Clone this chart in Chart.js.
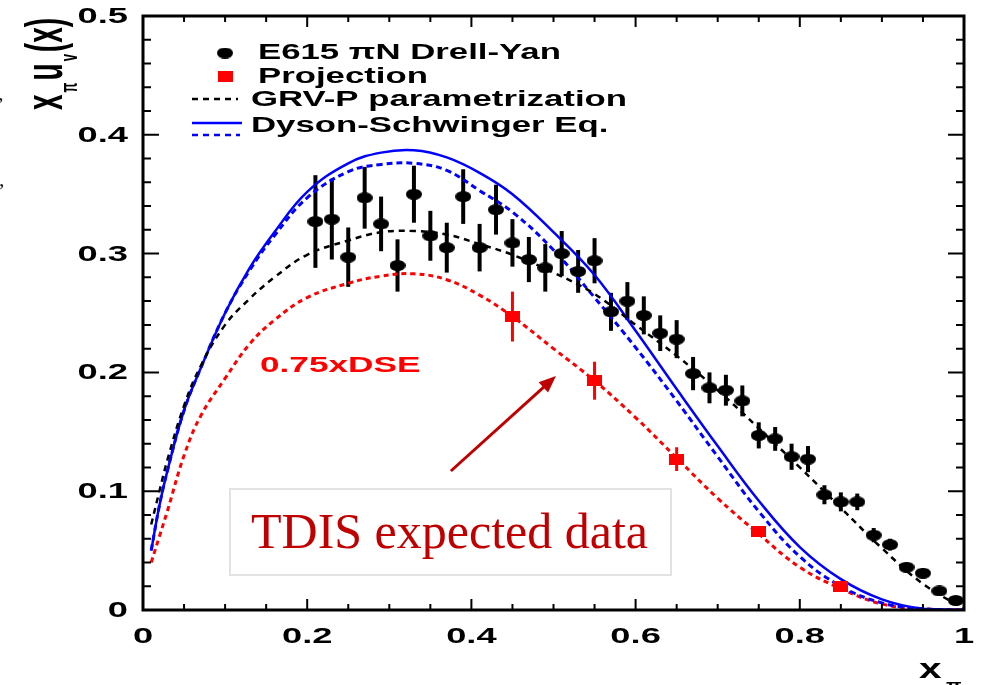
<!DOCTYPE html>
<html>
<head>
<meta charset="utf-8">
<script src="https://cdn.jsdelivr.net/npm/chart.js@4.4.0/dist/chart.umd.min.js"></script>
<style>
  body { margin: 0; background: #fff; }
  canvas { display: block; }
</style>
</head>
<body>
<canvas id="chart" width="982" height="685"></canvas>
<script>
// E615 piN Drell-Yan points
const e615X = [0.21, 0.23, 0.25, 0.27, 0.29, 0.31, 0.33, 0.35, 0.37, 0.39,
               0.41, 0.43, 0.45, 0.47, 0.49, 0.51, 0.53, 0.55, 0.57, 0.59,
               0.61, 0.63, 0.65, 0.67, 0.69, 0.71, 0.73, 0.75, 0.77, 0.79,
               0.81, 0.83, 0.85, 0.87, 0.89, 0.91, 0.93, 0.95, 0.97, 0.99];
const e615Y = [0.327, 0.329, 0.297, 0.347, 0.325, 0.290, 0.350, 0.315, 0.305, 0.348,
               0.305, 0.337, 0.309, 0.295, 0.288, 0.300, 0.285, 0.294, 0.251, 0.260,
               0.248, 0.233, 0.228, 0.199, 0.187, 0.185, 0.176, 0.147, 0.144, 0.129,
               0.127, 0.097, 0.091, 0.091, 0.063, 0.055, 0.036, 0.031, 0.016, 0.008];
const e615Err = [0.039, 0.034, 0.025, 0.026, 0.023, 0.022, 0.024, 0.021, 0.021, 0.023,
                 0.020, 0.021, 0.020, 0.019, 0.020, 0.019, 0.018, 0.019, 0.016, 0.016,
                 0.016, 0.015, 0.016, 0.014, 0.013, 0.013, 0.013, 0.011, 0.010, 0.011,
                 0.011, 0.008, 0.008, 0.007, 0.006, 0.005, 0.004, 0.004, 0.003, 0.003];

// TDIS projection
const projX = [0.45, 0.55, 0.65, 0.75, 0.85];
const projY = [0.247, 0.193, 0.127, 0.066, 0.020];
const projErr = [0.021, 0.016, 0.010, 0.004, 0.002];

// curves
const curveX    = [0.01, 0.02, 0.03, 0.05, 0.07, 0.10, 0.13, 0.16, 0.20, 0.25, 0.29, 0.33, 0.37, 0.41,
                   0.45, 0.50, 0.55, 0.60, 0.65, 0.70, 0.75, 0.80, 0.85, 0.90, 0.95, 1.00];
const dseSolid  = [0.050, 0.088, 0.118, 0.168, 0.203, 0.250, 0.288, 0.318, 0.352, 0.376, 0.385, 0.387, 0.381, 0.368,
                   0.350, 0.318, 0.282, 0.235, 0.186, 0.138, 0.092, 0.053, 0.026, 0.009, 0.001, 0.000];
const dseDashed = [0.050, 0.088, 0.118, 0.168, 0.203, 0.250, 0.286, 0.315, 0.347, 0.369, 0.375, 0.376, 0.370, 0.353,
                   0.335, 0.303, 0.263, 0.221, 0.176, 0.129, 0.083, 0.045, 0.020, 0.006, 0.001, 0.000];
const dse075    = [0.040, 0.062, 0.084, 0.130, 0.163, 0.195, 0.224, 0.244, 0.263, 0.275, 0.281, 0.283, 0.278, 0.265,
                   0.247, 0.220, 0.193, 0.162, 0.128, 0.094, 0.064, 0.036, 0.018, 0.005, 0.001, 0.000];
const grvP      = [0.072, 0.100, 0.127, 0.172, 0.205, 0.240, 0.262, 0.280, 0.299, 0.311, 0.318, 0.319, 0.316, 0.308,
                   0.299, 0.284, 0.266, 0.240, 0.214, 0.185, 0.153, 0.120, 0.086, 0.052, 0.022, 0.001];

const xTicks = [0, 0.2, 0.4, 0.6, 0.8, 1];
const xTickLabels = ['0', '0.2', '0.4', '0.6', '0.8', '1'];
const yTicks = [0, 0.1, 0.2, 0.3, 0.4, 0.5];
const yTickLabels = ['0', '0.1', '0.2', '0.3', '0.4', '0.5'];

const ROOT_FONT = '"Liberation Sans", Arial, sans-serif';

function makeMarker(w, h, color, round) {
    const c = document.createElement('canvas');
    c.width = w; c.height = h;
    const g = c.getContext('2d');
    g.fillStyle = color;
    if (round) {
        g.beginPath();
        g.ellipse(w / 2, h / 2, w / 2, h / 2, 0, 0, Math.PI * 2);
        g.fill();
    } else {
        g.fillRect(0, 0, w, h);
    }
    return c;
}
const dotMarker = makeMarker(16, 11, '#000', true);
const squareMarker = makeMarker(15, 11, '#ff0000', false);

function pts(xs, ys) {
    return xs.map((x, i) => ({ x: x, y: ys[i] }));
}

function wideText(ctx, txt, x, y, sx, align) {
    ctx.save();
    ctx.translate(x, y);
    ctx.scale(sx, 1);
    ctx.textAlign = align || 'left';
    ctx.fillText(txt, 0, 0);
    ctx.restore();
}

const errorBars = {
    id: 'errorBars',
    beforeDatasetsDraw(chart) {
        const { ctx, scales: { x, y } } = chart;
        ctx.save();
        [[e615X, e615Y, e615Err, '#000', 4], [projX, projY, projErr, '#ff0000', 3]].forEach(set => {
            const [xs, ys, es, col, w] = set;
            ctx.strokeStyle = col;
            ctx.lineWidth = w;
            xs.forEach((v, i) => {
                const px = x.getPixelForValue(v);
                ctx.beginPath();
                ctx.moveTo(px, y.getPixelForValue(ys[i] - es[i]));
                ctx.lineTo(px, y.getPixelForValue(ys[i] + es[i]));
                ctx.stroke();
            });
        });
        ctx.restore();
    }
};

const decorations = {
    id: 'decorations',
    afterDraw(chart) {
        const { ctx, chartArea: a, scales: { x, y } } = chart;
        ctx.save();

        // frame
        ctx.strokeStyle = '#000';
        ctx.lineWidth = 3;
        ctx.strokeRect(a.left, a.top, a.right - a.left, a.bottom - a.top);

        // inward ticks on all four sides
        ctx.lineWidth = 2;
        x.ticks.forEach(t => {
            const major = Math.abs(t.value / 0.2 - Math.round(t.value / 0.2)) < 1e-6;
            const len = major ? 11 : 6;
            const px = x.getPixelForValue(t.value);
            ctx.beginPath();
            ctx.moveTo(px, a.bottom); ctx.lineTo(px, a.bottom - len);
            ctx.moveTo(px, a.top); ctx.lineTo(px, a.top + len);
            ctx.stroke();
        });
        y.ticks.forEach(t => {
            const major = Math.abs(t.value / 0.1 - Math.round(t.value / 0.1)) < 1e-6;
            const len = major ? 16 : 8;
            const py = y.getPixelForValue(t.value);
            ctx.beginPath();
            ctx.moveTo(a.left, py); ctx.lineTo(a.left + len, py);
            ctx.moveTo(a.right, py); ctx.lineTo(a.right - len, py);
            ctx.stroke();
        });

        // tick labels
        ctx.fillStyle = '#000';
        ctx.font = 'bold 22px ' + ROOT_FONT;
        ctx.textBaseline = 'middle';
        yTicks.forEach((v, i) => {
            wideText(ctx, yTickLabels[i], a.left - 15, y.getPixelForValue(v) + 1, 1.65, 'right');
        });
        xTicks.forEach((v, i) => {
            wideText(ctx, xTickLabels[i], x.getPixelForValue(v), 637, 1.65, 'center');
        });

        // x axis title
        ctx.textBaseline = 'alphabetic';
        ctx.font = 'bold 28px ' + ROOT_FONT;
        wideText(ctx, 'x', 919, 678, 1.45, 'left');
        ctx.font = 'bold 14px ' + ROOT_FONT;
        wideText(ctx, 'π', 946, 690, 1.45, 'left');

        // y axis title (rotated)
        ctx.save();
        ctx.translate(62, 110);
        ctx.rotate(-Math.PI / 2);
        ctx.scale(1, 1.86);
        let cx = 0;
        [['x', 28, 0], ['π', 13, 8], ['u', 28, 0], ['v', 13, 8], ['(x)', 28, 0]].forEach(p => {
            ctx.font = 'bold ' + p[1] + 'px ' + ROOT_FONT;
            ctx.textAlign = 'left';
            ctx.fillText(p[0], cx, p[2]);
            cx += ctx.measureText(p[0]).width + 2;
        });
        ctx.restore();

        // legend
        ctx.font = 'bold 22px ' + ROOT_FONT;
        ctx.textBaseline = 'middle';
        ctx.drawImage(dotMarker, 225 - 8, 53 - 5.5);
        wideText(ctx, 'E615 πN Drell-Yan', 258, 53, 1.58, 'left');
        ctx.drawImage(squareMarker, 225 - 7.5, 76 - 5.5);
        wideText(ctx, 'Projection', 258, 77, 1.58, 'left');
        ctx.lineWidth = 2.5;
        ctx.strokeStyle = '#000';
        ctx.setLineDash([6, 5]);
        ctx.beginPath(); ctx.moveTo(192, 99); ctx.lineTo(238, 99); ctx.stroke();
        wideText(ctx, 'GRV-P parametrization', 251, 100, 1.58, 'left');
        ctx.strokeStyle = '#0000ff';
        ctx.setLineDash([]);
        ctx.beginPath(); ctx.moveTo(192, 123); ctx.lineTo(242, 123); ctx.stroke();
        ctx.setLineDash([6, 5]);
        ctx.beginPath(); ctx.moveTo(192, 135); ctx.lineTo(240, 135); ctx.stroke();
        ctx.setLineDash([]);
        wideText(ctx, 'Dyson-Schwinger Eq.', 251, 126, 1.58, 'left');

        // 0.75xDSE label
        ctx.fillStyle = '#ff0000';
        ctx.font = 'bold 22px ' + ROOT_FONT;
        wideText(ctx, '0.75xDSE', 260, 366, 1.6, 'left');

        // arrow to the projection points
        const tx = x.getPixelForValue(0.375), ty = y.getPixelForValue(0.117);
        const hx = x.getPixelForValue(0.503), hy = y.getPixelForValue(0.197);
        const ang = Math.atan2(hy - ty, hx - tx);
        ctx.strokeStyle = '#c00000';
        ctx.fillStyle = '#c00000';
        ctx.lineWidth = 3;
        ctx.beginPath();
        ctx.moveTo(tx, ty);
        ctx.lineTo(hx - 12 * Math.cos(ang), hy - 12 * Math.sin(ang));
        ctx.stroke();
        ctx.beginPath();
        ctx.moveTo(hx, hy);
        ctx.lineTo(hx - 17 * Math.cos(ang) + 7 * Math.sin(ang), hy - 17 * Math.sin(ang) - 7 * Math.cos(ang));
        ctx.lineTo(hx - 17 * Math.cos(ang) - 7 * Math.sin(ang), hy - 17 * Math.sin(ang) + 7 * Math.cos(ang));
        ctx.closePath();
        ctx.fill();

        // text box
        ctx.fillStyle = '#fff';
        ctx.fillRect(230, 489, 441, 86);
        ctx.strokeStyle = '#e2e2e2';
        ctx.lineWidth = 2;
        ctx.strokeRect(230, 489, 441, 86);
        ctx.fillStyle = '#c00000';
        ctx.font = '50px "Liberation Serif", "Times New Roman", serif';
        ctx.textBaseline = 'alphabetic';
        ctx.textAlign = 'left';
        ctx.fillText('TDIS expected data', 251, 548);

        // cropped characters at the left edge
        ctx.fillStyle = '#222';
        ctx.font = '22px "Liberation Serif", serif';
        ctx.fillText('’', -3, 112);
        ctx.fillText(',', -1, 186);

        ctx.restore();
    }
};

new Chart(document.getElementById('chart'), {
    type: 'line',
    data: {
        datasets: [
            {
                label: 'E615 πN Drell-Yan',
                data: pts(e615X, e615Y),
                showLine: false,
                pointStyle: dotMarker,
                order: 1
            },
            {
                label: 'Projection',
                data: pts(projX, projY),
                showLine: false,
                pointStyle: squareMarker,
                order: 0
            },
            {
                label: 'GRV-P parametrization',
                data: pts(curveX, grvP),
                borderColor: '#000',
                borderWidth: 2.5,
                borderDash: [6, 5],
                pointRadius: 0,
                tension: 0.4,
                order: 2
            },
            {
                label: 'Dyson-Schwinger Eq.',
                data: pts(curveX, dseSolid),
                borderColor: '#0000ff',
                borderWidth: 2.5,
                pointRadius: 0,
                tension: 0.4,
                order: 2
            },
            {
                label: 'Dyson-Schwinger Eq. (dashed)',
                data: pts(curveX, dseDashed),
                borderColor: '#0000ff',
                borderWidth: 3,
                borderDash: [6, 4],
                pointRadius: 0,
                tension: 0.4,
                order: 2
            },
            {
                label: '0.75xDSE',
                data: pts(curveX, dse075),
                borderColor: '#ff0000',
                borderWidth: 3,
                borderDash: [5, 4],
                pointRadius: 0,
                tension: 0.4,
                order: 2
            }
        ]
    },
    options: {
        responsive: false,
        animation: false,
        events: [],
        layout: { padding: { left: 0, right: 18, top: 16, bottom: 0 } },
        plugins: {
            legend: { display: false },
            tooltip: { enabled: false }
        },
        scales: {
            x: {
                type: 'linear',
                min: 0,
                max: 1,
                ticks: { display: false, stepSize: 0.05 },
                grid: { display: false },
                border: { display: false },
                afterFit: s => { s.height = 75; }
            },
            y: {
                min: 0,
                max: 0.5,
                ticks: { display: false, stepSize: 0.02 },
                grid: { display: false },
                border: { display: false },
                afterFit: s => { s.width = 143; }
            }
        }
    },
    plugins: [errorBars, decorations]
});
</script>
</body>
</html>
